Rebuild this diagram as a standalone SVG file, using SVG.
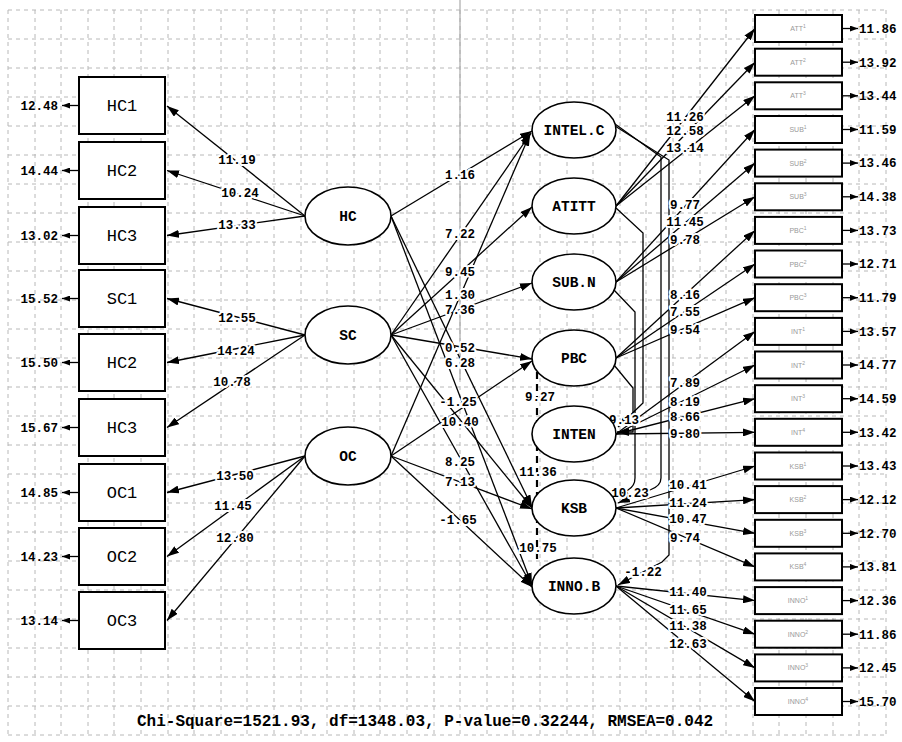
<svg xmlns="http://www.w3.org/2000/svg" width="902" height="742" viewBox="0 0 902 742">
<style>
.grid{stroke:#b8b8b8;stroke-width:1;stroke-dasharray:4,4;fill:none}
.ln{stroke:#000;stroke-width:1.3;fill:none}
.box{fill:#fff;stroke:#000;stroke-width:2}
.ell{fill:#fff;stroke:#000;stroke-width:1.6}
.bl{font-family:"Liberation Mono",monospace;font-size:17px;text-anchor:middle;fill:#000}
.el{font-family:"Liberation Mono",monospace;font-size:14.5px;font-weight:bold;text-anchor:middle;fill:#000}
.num{font-family:"Liberation Mono",monospace;font-size:12.5px;font-weight:bold;fill:#000;text-anchor:middle;paint-order:stroke;stroke:#fff;stroke-width:4px;stroke-linejoin:round}
.err{font-family:"Liberation Mono",monospace;font-size:12.5px;font-weight:bold;fill:#000}
.sm{font-family:"Liberation Sans",sans-serif;font-size:7px;fill:#999;text-anchor:middle}
.dash{stroke:#000;stroke-width:2.2;stroke-dasharray:7,5;fill:none}
</style>
<defs>
<marker id="ah" viewBox="0 0 12 8" refX="12" refY="4" markerWidth="12" markerHeight="8" markerUnits="userSpaceOnUse" orient="auto"><path d="M0,0 L12,4 L0,8 z" fill="#000"/></marker>
<marker id="ae" viewBox="0 0 8 6" refX="8" refY="3" markerWidth="8" markerHeight="6" markerUnits="userSpaceOnUse" orient="auto"><path d="M0,0 L8,3 L0,6 z" fill="#000"/></marker>
</defs>
<rect width="902" height="742" fill="#fff"/>
<g id="grid">
<path class="grid" d="M8,10V735M35,10V735M61,10V735M88,10V735M114,10V735M141,10V735M168,10V735M194,10V735M221,10V735M247,10V735M274,10V735M301,10V735M327,10V735M354,10V735M380,10V735M407,10V735M434,10V735M460,10V735M487,10V735M513,10V735M540,10V735M567,10V735M593,10V735M620,10V735M646,10V735M673,10V735M700,10V735M726,10V735M753,10V735M779,10V735M806,10V735M833,10V735M859,10V735M886,10V735"/>
<path class="grid" d="M8,10H886M8,39H886M8,68H886M8,97H886M8,126H886M8,155H886M8,184H886M8,213H886M8,242H886M8,271H886M8,300H886M8,329H886M8,358H886M8,387H886M8,416H886M8,445H886M8,474H886M8,503H886M8,532H886M8,561H886M8,590H886M8,619H886M8,648H886M8,677H886M8,706H886M8,735H886"/>
<path d="M460,0V380" stroke="#aaa" stroke-width="1.2"/>
</g>
<g id="connectors">
<path class="ln" marker-end="url(#ah)" d="M305,216L167,106"/>
<path class="ln" marker-end="url(#ah)" d="M305,216L167,170.5"/>
<path class="ln" marker-end="url(#ah)" d="M305,216L167,235.5"/>
<path class="ln" marker-end="url(#ah)" d="M305,335L167,298.5"/>
<path class="ln" marker-end="url(#ah)" d="M305,335L167,362.5"/>
<path class="ln" marker-end="url(#ah)" d="M305,335L167,427.5"/>
<path class="ln" marker-end="url(#ah)" d="M305,456L167,492.5"/>
<path class="ln" marker-end="url(#ah)" d="M305,456L167,556.5"/>
<path class="ln" marker-end="url(#ah)" d="M305,456L167,620.5"/>
<path class="ln" marker-end="url(#ae)" d="M79,105.5H62"/>
<path class="ln" marker-end="url(#ae)" d="M79,170.5H62"/>
<path class="ln" marker-end="url(#ae)" d="M79,235.5H62"/>
<path class="ln" marker-end="url(#ae)" d="M79,298.5H62"/>
<path class="ln" marker-end="url(#ae)" d="M79,362.5H62"/>
<path class="ln" marker-end="url(#ae)" d="M79,427.5H62"/>
<path class="ln" marker-end="url(#ae)" d="M79,492.5H62"/>
<path class="ln" marker-end="url(#ae)" d="M79,556.5H62"/>
<path class="ln" marker-end="url(#ae)" d="M79,620.5H62"/>
<path class="ln" marker-end="url(#ah)" d="M391,216L532,131"/>
<path class="ln" marker-end="url(#ah)" d="M391,335L531,133"/>
<path class="ln" marker-end="url(#ah)" d="M391,335L532,207"/>
<path class="ln" marker-end="url(#ah)" d="M391,456L530,134"/>
<path class="ln" marker-end="url(#ah)" d="M391,335L532,283"/>
<path class="ln" marker-end="url(#ah)" d="M391,335L532,359"/>
<path class="ln" marker-end="url(#ah)" d="M391,456L532,361"/>
<path class="ln" marker-end="url(#ah)" d="M391,216L532,507"/>
<path class="ln" marker-end="url(#ah)" d="M391,216L532,585"/>
<path class="ln" marker-end="url(#ah)" d="M391,335L532,508"/>
<path class="ln" marker-end="url(#ah)" d="M391,335L532,586"/>
<path class="ln" marker-end="url(#ah)" d="M391,456L532,509"/>
<path class="ln" marker-end="url(#ah)" d="M391,456L532,587"/>
<path class="dash" d="M537,372V560"/>
<path class="ln" marker-end="url(#ah)" d="M615,124L661,157V478Q661,486 650,490L618,503"/>
<path class="ln" marker-end="url(#ah)" d="M615,126L669,160V555L662,562L618,585"/>
<path class="ln" marker-end="url(#ah)" d="M616,208L643,233V403L618,427"/>
<path class="ln" marker-end="url(#ah)" d="M614,290L635,312V478Q635,486 628,490L617,498"/>
<path class="ln" marker-end="url(#ah)" d="M614,365L633,388V432H617"/>
<path class="ln" marker-end="url(#ah)" d="M616,206L755,28.5"/>
<path class="ln" marker-end="url(#ah)" d="M616,206L755,62.2"/>
<path class="ln" marker-end="url(#ah)" d="M616,206L755,95.8"/>
<path class="ln" marker-end="url(#ah)" d="M616,282L755,129.5"/>
<path class="ln" marker-end="url(#ah)" d="M616,282L755,163.1"/>
<path class="ln" marker-end="url(#ah)" d="M616,282L755,196.8"/>
<path class="ln" marker-end="url(#ah)" d="M616,358L755,230.4"/>
<path class="ln" marker-end="url(#ah)" d="M616,358L755,264"/>
<path class="ln" marker-end="url(#ah)" d="M616,358L755,297.7"/>
<path class="ln" marker-end="url(#ah)" d="M616,434L755,331.4"/>
<path class="ln" marker-end="url(#ah)" d="M616,434L755,365"/>
<path class="ln" marker-end="url(#ah)" d="M616,434L755,398.7"/>
<path class="ln" marker-end="url(#ah)" d="M616,434L755,432.3"/>
<path class="ln" marker-end="url(#ah)" d="M616,508L755,466"/>
<path class="ln" marker-end="url(#ah)" d="M616,508L755,499.6"/>
<path class="ln" marker-end="url(#ah)" d="M616,508L755,533.3"/>
<path class="ln" marker-end="url(#ah)" d="M616,508L755,566.9"/>
<path class="ln" marker-end="url(#ah)" d="M616,586L755,600.6"/>
<path class="ln" marker-end="url(#ah)" d="M616,586L755,634.2"/>
<path class="ln" marker-end="url(#ah)" d="M616,586L755,667.9"/>
<path class="ln" marker-end="url(#ah)" d="M616,586L755,701.5"/>
<path class="ln" marker-end="url(#ae)" d="M842,28.5H858"/>
<path class="ln" marker-end="url(#ae)" d="M842,62.2H858"/>
<path class="ln" marker-end="url(#ae)" d="M842,95.8H858"/>
<path class="ln" marker-end="url(#ae)" d="M842,129.5H858"/>
<path class="ln" marker-end="url(#ae)" d="M842,163.1H858"/>
<path class="ln" marker-end="url(#ae)" d="M842,196.8H858"/>
<path class="ln" marker-end="url(#ae)" d="M842,230.4H858"/>
<path class="ln" marker-end="url(#ae)" d="M842,264H858"/>
<path class="ln" marker-end="url(#ae)" d="M842,297.7H858"/>
<path class="ln" marker-end="url(#ae)" d="M842,331.4H858"/>
<path class="ln" marker-end="url(#ae)" d="M842,365H858"/>
<path class="ln" marker-end="url(#ae)" d="M842,398.7H858"/>
<path class="ln" marker-end="url(#ae)" d="M842,432.3H858"/>
<path class="ln" marker-end="url(#ae)" d="M842,466H858"/>
<path class="ln" marker-end="url(#ae)" d="M842,499.6H858"/>
<path class="ln" marker-end="url(#ae)" d="M842,533.3H858"/>
<path class="ln" marker-end="url(#ae)" d="M842,566.9H858"/>
<path class="ln" marker-end="url(#ae)" d="M842,600.6H858"/>
<path class="ln" marker-end="url(#ae)" d="M842,634.2H858"/>
<path class="ln" marker-end="url(#ae)" d="M842,667.9H858"/>
<path class="ln" marker-end="url(#ae)" d="M842,701.5H858"/>
</g>
<g id="path-labels">
<text class="num" x="237" y="164">11.19</text>
<text class="num" x="240" y="197">10.24</text>
<text class="num" x="237" y="229">13.33</text>
<text class="num" x="237" y="322">12.55</text>
<text class="num" x="236" y="355">14.24</text>
<text class="num" x="232" y="386">10.78</text>
<text class="num" x="235" y="480">13.50</text>
<text class="num" x="233" y="510">11.45</text>
<text class="num" x="235" y="542">12.80</text>
<text class="num" x="460" y="179">1.16</text>
<text class="num" x="460" y="238">7.22</text>
<text class="num" x="460" y="276">9.45</text>
<text class="num" x="460" y="299">1.30</text>
<text class="num" x="460" y="314">7.36</text>
<text class="num" x="460" y="352">0.52</text>
<text class="num" x="460" y="367">6.28</text>
<text class="num" x="458" y="406">-1.25</text>
<text class="num" x="460" y="426">10.40</text>
<text class="num" x="460" y="466">8.25</text>
<text class="num" x="460" y="486">7.13</text>
<text class="num" x="458" y="524">-1.65</text>
<text class="num" x="540" y="401">9.27</text>
<text class="num" x="538" y="476">11.36</text>
<text class="num" x="538" y="552">10.75</text>
<text class="num" x="624" y="424">9.13</text>
<text class="num" x="630" y="497">10.23</text>
<text class="num" x="643" y="576">-1.22</text>
<text class="num" x="685" y="121">11.26</text>
<text class="num" x="685" y="135">12.58</text>
<text class="num" x="685" y="152">13.14</text>
<text class="num" x="685" y="209">9.77</text>
<text class="num" x="685" y="226">11.45</text>
<text class="num" x="685" y="244">9.78</text>
<text class="num" x="685" y="299">8.16</text>
<text class="num" x="685" y="316">7.55</text>
<text class="num" x="685" y="334">9.54</text>
<text class="num" x="685" y="387">7.89</text>
<text class="num" x="685" y="406">8.19</text>
<text class="num" x="685" y="421">8.66</text>
<text class="num" x="685" y="438">9.80</text>
<text class="num" x="688" y="489">10.41</text>
<text class="num" x="688" y="507">11.24</text>
<text class="num" x="688" y="523">10.47</text>
<text class="num" x="685" y="542">9.74</text>
<text class="num" x="688" y="596">11.40</text>
<text class="num" x="688" y="614">11.65</text>
<text class="num" x="688" y="630">11.38</text>
<text class="num" x="688" y="648">12.63</text>
</g>
<g id="error-labels">
<g class="err" text-anchor="end">
<text x="58" y="110">12.48</text>
<text x="58" y="175">14.44</text>
<text x="58" y="240">13.02</text>
<text x="58" y="303">15.52</text>
<text x="58" y="367">15.50</text>
<text x="58" y="432">15.67</text>
<text x="58" y="497">14.85</text>
<text x="58" y="561">14.23</text>
<text x="58" y="625">13.14</text>
</g>
<g class="err">
<text x="859" y="33">11.86</text>
<text x="859" y="67">13.92</text>
<text x="859" y="100">13.44</text>
<text x="859" y="134">11.59</text>
<text x="859" y="167">13.46</text>
<text x="859" y="201">14.38</text>
<text x="859" y="235">13.73</text>
<text x="859" y="268">12.71</text>
<text x="859" y="302">11.79</text>
<text x="859" y="336">13.57</text>
<text x="859" y="369">14.77</text>
<text x="859" y="403">14.59</text>
<text x="859" y="437">13.42</text>
<text x="859" y="470">13.43</text>
<text x="859" y="504">12.12</text>
<text x="859" y="538">12.70</text>
<text x="859" y="571">13.81</text>
<text x="859" y="605">12.36</text>
<text x="859" y="639">11.86</text>
<text x="859" y="672">12.45</text>
<text x="859" y="706">15.70</text>
</g>
</g>
<g id="n-HC1"><rect class="box" x="79" y="77" width="86" height="57"/><text class="bl" x="122" y="111">HC1</text></g>
<g id="n-HC2"><rect class="box" x="79" y="142" width="86" height="57"/><text class="bl" x="122" y="176">HC2</text></g>
<g id="n-HC3"><rect class="box" x="79" y="207" width="86" height="57"/><text class="bl" x="122" y="241">HC3</text></g>
<g id="n-SC1"><rect class="box" x="79" y="270" width="86" height="57"/><text class="bl" x="122" y="304">SC1</text></g>
<g id="n-HC2b"><rect class="box" x="79" y="334" width="86" height="57"/><text class="bl" x="122" y="368">HC2</text></g>
<g id="n-HC3b"><rect class="box" x="79" y="399" width="86" height="57"/><text class="bl" x="122" y="433">HC3</text></g>
<g id="n-OC1"><rect class="box" x="79" y="464" width="86" height="57"/><text class="bl" x="122" y="498">OC1</text></g>
<g id="n-OC2"><rect class="box" x="79" y="528" width="86" height="57"/><text class="bl" x="122" y="562">OC2</text></g>
<g id="n-OC3"><rect class="box" x="79" y="592" width="86" height="57"/><text class="bl" x="122" y="626">OC3</text></g>
<g id="n-HC"><ellipse class="ell" cx="348" cy="216" rx="43" ry="29"/><text class="el" x="348" y="221">HC</text></g>
<g id="n-SC"><ellipse class="ell" cx="348" cy="335" rx="43" ry="29"/><text class="el" x="348" y="340">SC</text></g>
<g id="n-OC"><ellipse class="ell" cx="348" cy="456" rx="43" ry="29"/><text class="el" x="348" y="461">OC</text></g>
<g id="n-INTELC"><ellipse class="ell" cx="574" cy="130" rx="42" ry="28"/><text class="el" x="574" y="135">INTEL.C</text></g>
<g id="n-ATITT"><ellipse class="ell" cx="574" cy="206" rx="42" ry="28"/><text class="el" x="574" y="211">ATITT</text></g>
<g id="n-SUBN"><ellipse class="ell" cx="574" cy="282" rx="42" ry="28"/><text class="el" x="574" y="287">SUB.N</text></g>
<g id="n-PBC"><ellipse class="ell" cx="574" cy="358" rx="42" ry="28"/><text class="el" x="574" y="363">PBC</text></g>
<g id="n-INTEN"><ellipse class="ell" cx="574" cy="434" rx="42" ry="28"/><text class="el" x="574" y="439">INTEN</text></g>
<g id="n-KSB"><ellipse class="ell" cx="574" cy="508" rx="42" ry="28"/><text class="el" x="574" y="513">KSB</text></g>
<g id="n-INNOB"><ellipse class="ell" cx="574" cy="586" rx="42" ry="28"/><text class="el" x="574" y="591">INNO.B</text></g>
<g id="n-ATT1"><rect class="box" x="755" y="15" width="87" height="27"/><text class="sm" x="798" y="31">ATT<tspan dy="-3" font-size="5">1</tspan></text></g>
<g id="n-ATT2"><rect class="box" x="755" y="48.7" width="87" height="27"/><text class="sm" x="798" y="64.7">ATT<tspan dy="-3" font-size="5">2</tspan></text></g>
<g id="n-ATT3"><rect class="box" x="755" y="82.3" width="87" height="27"/><text class="sm" x="798" y="98.3">ATT<tspan dy="-3" font-size="5">3</tspan></text></g>
<g id="n-SUB1"><rect class="box" x="755" y="116" width="87" height="27"/><text class="sm" x="798" y="132">SUB<tspan dy="-3" font-size="5">1</tspan></text></g>
<g id="n-SUB2"><rect class="box" x="755" y="149.6" width="87" height="27"/><text class="sm" x="798" y="165.6">SUB<tspan dy="-3" font-size="5">2</tspan></text></g>
<g id="n-SUB3"><rect class="box" x="755" y="183.3" width="87" height="27"/><text class="sm" x="798" y="199.3">SUB<tspan dy="-3" font-size="5">3</tspan></text></g>
<g id="n-PBC1"><rect class="box" x="755" y="216.9" width="87" height="27"/><text class="sm" x="798" y="232.9">PBC<tspan dy="-3" font-size="5">1</tspan></text></g>
<g id="n-PBC2"><rect class="box" x="755" y="250.5" width="87" height="27"/><text class="sm" x="798" y="266.5">PBC<tspan dy="-3" font-size="5">2</tspan></text></g>
<g id="n-PBC3"><rect class="box" x="755" y="284.2" width="87" height="27"/><text class="sm" x="798" y="300.2">PBC<tspan dy="-3" font-size="5">3</tspan></text></g>
<g id="n-INT1"><rect class="box" x="755" y="317.9" width="87" height="27"/><text class="sm" x="798" y="333.9">INT<tspan dy="-3" font-size="5">1</tspan></text></g>
<g id="n-INT2"><rect class="box" x="755" y="351.5" width="87" height="27"/><text class="sm" x="798" y="367.5">INT<tspan dy="-3" font-size="5">2</tspan></text></g>
<g id="n-INT3"><rect class="box" x="755" y="385.2" width="87" height="27"/><text class="sm" x="798" y="401.2">INT<tspan dy="-3" font-size="5">3</tspan></text></g>
<g id="n-INT4"><rect class="box" x="755" y="418.8" width="87" height="27"/><text class="sm" x="798" y="434.8">INT<tspan dy="-3" font-size="5">4</tspan></text></g>
<g id="n-KSB1"><rect class="box" x="755" y="452.5" width="87" height="27"/><text class="sm" x="798" y="468.5">KSB<tspan dy="-3" font-size="5">1</tspan></text></g>
<g id="n-KSB2"><rect class="box" x="755" y="486.1" width="87" height="27"/><text class="sm" x="798" y="502.1">KSB<tspan dy="-3" font-size="5">2</tspan></text></g>
<g id="n-KSB3"><rect class="box" x="755" y="519.8" width="87" height="27"/><text class="sm" x="798" y="535.8">KSB<tspan dy="-3" font-size="5">3</tspan></text></g>
<g id="n-KSB4"><rect class="box" x="755" y="553.4" width="87" height="27"/><text class="sm" x="798" y="569.4">KSB<tspan dy="-3" font-size="5">4</tspan></text></g>
<g id="n-INNO1"><rect class="box" x="755" y="587.1" width="87" height="27"/><text class="sm" x="798" y="603.1">INNO<tspan dy="-3" font-size="5">1</tspan></text></g>
<g id="n-INNO2"><rect class="box" x="755" y="620.7" width="87" height="27"/><text class="sm" x="798" y="636.7">INNO<tspan dy="-3" font-size="5">2</tspan></text></g>
<g id="n-INNO3"><rect class="box" x="755" y="654.4" width="87" height="27"/><text class="sm" x="798" y="670.4">INNO<tspan dy="-3" font-size="5">3</tspan></text></g>
<g id="n-INNO4"><rect class="box" x="755" y="688" width="87" height="27"/><text class="sm" x="798" y="704">INNO<tspan dy="-3" font-size="5">4</tspan></text></g>
<text x="137" y="726" font-family="Liberation Mono, monospace" font-size="16" font-weight="bold" fill="#000">Chi-Square=1521.93, df=1348.03, P-value=0.32244, RMSEA=0.042</text>
</svg>
